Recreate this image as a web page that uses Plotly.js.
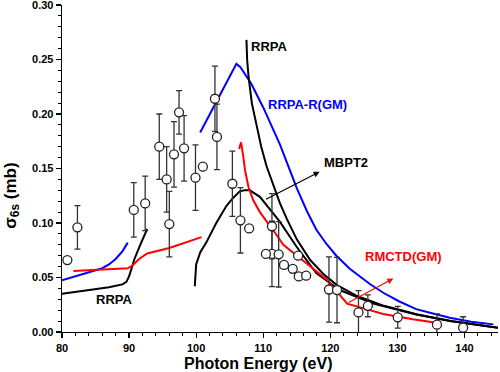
<!DOCTYPE html>
<html>
<head>
<meta charset="utf-8">
<script src="https://cdn.plot.ly/plotly-3.0.1.min.js"></script>
<style>html,body{margin:0;padding:0;background:#fff;}#chart{width:500px;height:372px;}</style>
</head>
<body>
<div id="chart"></div>
<script>
// Experimental points with error bars
var expX   = [82.3, 90.7, 92.4, 94.5, 95.6, 96.0, 96.7, 97.45, 98.2, 99.9, 102.8, 103.1, 105.4, 106.6, 111.3, 111.3, 112.3, 119.8, 121.0, 124.2, 125.6, 130.05, 135.9, 139.8];
var expY   = [0.096, 0.112, 0.118, 0.170, 0.140, 0.099, 0.163, 0.2015, 0.1685, 0.1416, 0.214, 0.179, 0.136, 0.1025, 0.097, 0.0716, 0.0713, 0.039, 0.0385, 0.018, 0.024, 0.0135, 0.0067, 0.004];
var expErr = [0.020, 0.025, 0.025, 0.030, 0.030, 0.030, 0.030, 0.020, 0.030, 0.030, 0.030, 0.030, 0.030, 0.030, 0.030, 0.030, 0.030, 0.030, 0.030, 0.020, 0.010, 0.010, 0.010, 0.010];
// Experimental points without error bars
var exp2X = [80.8, 101.0, 107.9, 110.4, 113.1, 114.4, 115.2, 115.3, 116.4];
var exp2Y = [0.066, 0.1517, 0.095, 0.0716, 0.0615, 0.058, 0.070, 0.051, 0.0517];

// Tick labels
var yTicks = [0, 0.05, 0.10, 0.15, 0.20, 0.25, 0.30];
var yTickText = ['0.00', '0.05', '0.10', '0.15', '0.20', '0.25', '0.30'];
var xTicks = [80, 90, 100, 110, 120, 130, 140];

// RRPA-R(GM) (blue)
var blue1X = [80, 82, 84, 86, 87, 88, 89, 89.8];
var blue1Y = [0.0474, 0.051, 0.055, 0.0585, 0.062, 0.067, 0.074, 0.082];
var blue2X = [100.6, 102, 104, 105.3, 106.0, 106.6, 108.2, 110, 112.5, 115, 116.5, 117.9, 119.4, 120.9, 122.9, 125.9, 127.9, 130.3, 132.8, 135.3, 137.8, 141, 144.3];
var blue2Y = [0.183, 0.199, 0.222, 0.238, 0.246, 0.243, 0.228, 0.206, 0.172, 0.132, 0.111, 0.094, 0.081, 0.070, 0.058, 0.044, 0.036, 0.028, 0.021, 0.017, 0.013, 0.0095, 0.007];

// RRPA (black)
var rrpa1X = [80, 82, 84.6, 87, 89, 89.6, 90, 90.4, 90.8, 91.6, 92.7];
var rrpa1Y = [0.035, 0.037, 0.039, 0.041, 0.0437, 0.046, 0.051, 0.059, 0.067, 0.079, 0.0945];
var rrpa2X = [107.5, 107.6, 107.8, 108.3, 109, 109.7, 110.5, 111.5, 112.5, 113.5, 115, 117, 119, 121, 124, 128, 133, 138, 145];
var rrpa2Y = [0.268, 0.25, 0.235, 0.21, 0.19, 0.17, 0.152, 0.135, 0.118, 0.104, 0.085, 0.066, 0.053, 0.043, 0.033, 0.024, 0.016, 0.010, 0.004];

// MBPT2 (black)
var mbptX = [99.8, 100.0, 100.6, 101.5, 103, 104.5, 105.5, 106.5, 107.2, 108.0, 109.5, 111.0, 112.5, 115.0, 117.9, 121.4, 126.4, 132.8, 137.8, 145];
var mbptY = [0.042, 0.062, 0.073, 0.082, 0.100, 0.1156, 0.123, 0.129, 0.130, 0.130, 0.124, 0.112, 0.101, 0.078, 0.054, 0.0385, 0.026, 0.016, 0.010, 0.004];

// RMCTD(GM) (red)
var red1X = [81.7, 85.6, 89.8, 90.5, 91.5, 92.7, 96, 100.8];
var red1Y = [0.056, 0.0575, 0.0585, 0.061, 0.067, 0.072, 0.077, 0.087];
var red2X = [106.4, 106.7, 107.0, 107.3, 107.8, 108.5, 109.5, 110.5, 112, 113, 116.5, 119.5, 122.5, 127.9, 132.3, 135.8];
var red2Y = [0.168, 0.174, 0.162, 0.148, 0.133, 0.121, 0.110, 0.102, 0.089, 0.080, 0.063, 0.048, 0.026, 0.0165, 0.0117, 0.0085];

var lw = 2;
function line(x, y, c) {
  return {x: x, y: y, mode: 'lines', line: {color: c, width: lw}, hoverinfo: 'skip', showlegend: false};
}
var mk = {symbol: 'circle', size: 9, color: '#ffffff', line: {color: '#222222', width: 1.3}};
var traces = [
  line(blue1X, blue1Y, '#0000ff'),
  line(blue2X, blue2Y, '#0000ff'),
  line(rrpa1X, rrpa1Y, '#000000'),
  line(rrpa2X, rrpa2Y, '#000000'),
  line(mbptX, mbptY, '#000000'),
  line(red1X, red1Y, '#ff0000'),
  line(red2X, red2Y, '#ff0000'),
  {x: expX, y: expY, mode: 'markers', marker: mk, showlegend: false,
   error_y: {type: 'data', array: expErr, visible: true, color: '#333333', thickness: 1.3, width: 3}},
  {x: exp2X, y: exp2Y, mode: 'markers', marker: mk, showlegend: false}
];

var fam = 'Arial, "Liberation Sans", sans-serif';
function lbl(x, y, t, c) {
  return {x: x, y: y, xref: 'x', yref: 'y', text: t, showarrow: false,
          font: {family: fam, size: 13, color: c, weight: 'bold'}};
}
function arr(x0, y0, x1, y1, c) {
  return {x: x1, y: y1, ax: x0, ay: y0, xref: 'x', yref: 'y', axref: 'x', ayref: 'y',
          text: '', showarrow: true, arrowhead: 2, arrowsize: 1, arrowwidth: 1.2, arrowcolor: c};
}

var layout = {
  width: 500, height: 372,
  margin: {l: 62, r: 2, t: 5, b: 40},
  paper_bgcolor: '#ffffff', plot_bgcolor: '#ffffff',
  font: {family: fam, size: 11, color: '#000'},
  xaxis: {
    range: [80, 145], tickmode: 'array', tickvals: xTicks, showgrid: false, zeroline: false,
    showline: true, linecolor: '#000', linewidth: 1.3,
    ticks: 'outside', ticklen: 5, tickwidth: 1.3, tickcolor: '#000',
    minor: {dtick: 2, tick0: 80, ticks: 'outside', ticklen: 3, tickwidth: 1, tickcolor: '#000'},
    tickfont: {family: fam, size: 11, weight: 'bold'}, ticklabeloverflow: 'allow'
  },
  yaxis: {
    range: [0, 0.30], tickmode: 'array', tickvals: yTicks, ticktext: yTickText,
    showgrid: false, zeroline: false,
    showline: true, linecolor: '#000', linewidth: 1.3,
    ticks: 'outside', ticklen: 5, tickwidth: 1.3, tickcolor: '#000',
    minor: {dtick: 0.01, tick0: 0, ticks: 'outside', ticklen: 3, tickwidth: 1, tickcolor: '#000'},
    tickfont: {family: fam, size: 11, weight: 'bold'}, ticklabeloverflow: 'allow'
  },
  annotations: [
    lbl(110.8, 0.262, 'RRPA', '#000'),
    lbl(116.6, 0.209, 'RRPA-R(GM)', '#0000ff'),
    lbl(122.4, 0.1555, 'MBPT2', '#000'),
    lbl(130.9, 0.069, 'RMCTD(GM)', '#ff0000'),
    lbl(87.8, 0.030, 'RRPA', '#000'),
    arr(110.2, 0.121, 118.4, 0.147, '#000'),
    arr(122.5, 0.0263, 129.4, 0.049, '#ff0000'),
    {x: 0.449, y: -0.096, xref: 'paper', yref: 'paper', text: 'Photon Energy (eV)', showarrow: false,
     xanchor: 'center', yanchor: 'middle', font: {family: fam, size: 16, weight: 'bold'}},
    {x: -0.115, y: 0.416, xref: 'paper', yref: 'paper', text: 'σ<sub>6s</sub> (mb)', showarrow: false,
     textangle: -90, xanchor: 'center', yanchor: 'middle', font: {family: fam, size: 17, weight: 'bold'}}
  ]
};

Plotly.newPlot('chart', traces, layout, {displayModeBar: false, staticPlot: true});
</script>
</body>
</html>
